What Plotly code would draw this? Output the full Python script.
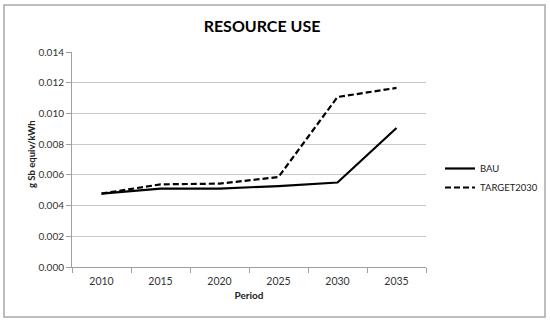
import plotly.graph_objects as go

periods = ["2010", "2015", "2020", "2025", "2030", "2035"]
bau = [0.00478, 0.00510, 0.00511, 0.00527, 0.00550, 0.00905]
target2030 = [0.00478, 0.00538, 0.00543, 0.00586, 0.01107, 0.01166]
y_ticks = [0.000, 0.002, 0.004, 0.006, 0.008, 0.010, 0.012, 0.014]

FONT = "Lato, Carlito, Calibri, sans-serif"

fig = go.Figure()
fig.add_trace(go.Scatter(x=periods, y=bau, mode="lines", name="BAU",
                         line=dict(color="black", width=2.2)))
fig.add_trace(go.Scatter(x=periods, y=target2030, mode="lines", name="TARGET2030",
                         line=dict(color="black", width=2.2, dash="6px,3px")))

L, R, T, B = 72, 124, 52, 55
W, H = 550, 322
pw, ph = W - L - R, H - T - B

def px(x):
    return (x - L) / pw

def py(y):
    return (H - B - y) / ph

fig.update_layout(
    width=W, height=H,
    margin=dict(l=L, r=R, t=T, b=B, autoexpand=False),
    paper_bgcolor="white", plot_bgcolor="white",
    font=dict(family=FONT, size=10.5, color="#333333"),
    title=dict(text="<b>RESOURCE USE</b>", x=(262) / W, xanchor="center",
               y=1 - 26 / H, yanchor="middle",
               font=dict(family=FONT, size=16, color="black")),
    showlegend=True,
    legend=dict(x=px(440), y=py(178), xanchor="left", yanchor="middle",
                font=dict(family=FONT, size=9.5, color="#222222"),
                bgcolor="rgba(0,0,0,0)", tracegroupgap=5, itemwidth=30),
    xaxis=dict(type="category", range=[-0.5, 5.5], tickson="boundaries",
               ticks="outside", ticklen=5, automargin=False, ticklabelstandoff=4,
               tickcolor="#a0a0a0", showline=True, linecolor="#a0a0a0", linewidth=1,
               showgrid=False, tickfont=dict(size=10.5, color="#333333"),
               title=dict(text="<b>Period</b>", standoff=6,
                          font=dict(size=10, color="#222222"))),
    yaxis=dict(range=[0, 0.014], tickvals=y_ticks, tickformat=".3f",
               ticks="outside", ticklen=5, tickcolor="#a0a0a0", automargin=False,
               showline=True, linecolor="#a0a0a0", linewidth=1,
               showgrid=True, gridcolor="#c8c8c8", gridwidth=1, zeroline=False,
               tickfont=dict(size=10, color="#333333")),
    annotations=[dict(text="<b>g Sb equiv/kWh</b>", xref="paper", yref="paper",
                      x=px(31), y=py(154), xanchor="center", yanchor="middle",
                      textangle=-90, showarrow=False,
                      font=dict(family=FONT, size=9.5, color="#222222"))],
    shapes=[dict(type="rect", xref="paper", yref="paper",
                 x0=px(4), x1=px(545), y0=py(317), y1=py(5),
                 line=dict(color="#a8a8a8", width=1.5), layer="below")],
)

fig.write_html("out.html", config={"displayModeBar": False},
               post_script="document.body.style.margin='0';document.body.style.overflow='hidden';")
